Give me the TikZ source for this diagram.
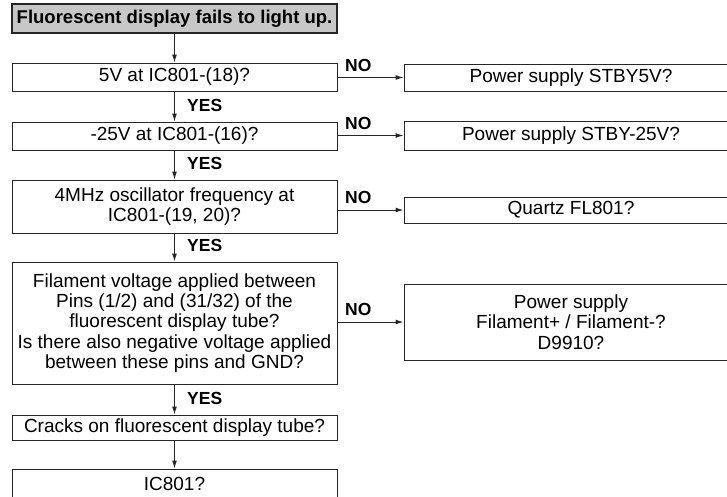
\documentclass[tikz,border=0pt]{standalone}
\usepackage{fontspec}
\setmainfont{Liberation Sans}
\usetikzlibrary{arrows.meta}
\begin{document}
\begin{tikzpicture}[x=1pt,y=-1pt,
  box/.style={draw=black!85, line width=1pt, rectangle, inner sep=0pt, align=center, font=\fontsize{19}{20.4}\selectfont},
  titlebox/.style={draw=black!85, line width=2.2pt, fill=black!22, inner sep=0pt, font=\bfseries\fontsize{18.5}{20}\selectfont},
  lbl/.style={font=\bfseries\fontsize{17.5}{20}\selectfont, inner sep=0pt, anchor=base west},
  arr/.style={-{Latex[length=8pt,width=5pt]}, line width=1pt, draw=black!85}]
\useasboundingbox (0,0) rectangle (727,496);
\node[titlebox, minimum width=325pt, minimum height=29pt] (t) at (174.5,18.5) {Fluorescent display fails to light up.};
\node[box, minimum width=325pt, minimum height=28pt] (b1) at (174.5,77) {5V at IC801-(18)?};
\node[box, minimum width=325pt, minimum height=28pt] (b2) at (174.5,136) {-25V at IC801-(16)?};
\node[box, minimum width=325pt, minimum height=53pt] (b3) at (174.5,206.5) {4MHz oscillator frequency at\\IC801-(19, 20)?};
\node[box, minimum width=325pt, minimum height=122pt] (b4) at (174.5,323) {Filament voltage applied between\\Pins (1/2) and (31/32) of the\\fluorescent display tube?\\Is there also negative voltage applied\\between these pins and GND?};
\node[box, minimum width=325pt, minimum height=25pt] (b5) at (174.5,427.5) {Cracks on fluorescent display tube?};
\node[box, minimum width=325pt, minimum height=30pt] (b6) at (174.5,484) {IC801?};
\node[box, minimum width=334pt, minimum height=27pt] (r1) at (571,77.5) {Power supply STBY5V?};
\node[box, minimum width=334pt, minimum height=29pt] (r2) at (571,135.5) {Power supply STBY-25V?};
\node[box, minimum width=334pt, minimum height=26pt] (r3) at (571,210) {Quartz FL801?};
\node[box, minimum width=334pt, minimum height=76pt] (r4) at (571,322) {Power supply\\Filament+ / Filament-?\\D9910?};
\draw[arr] (t.south) -- (b1.north);
\draw[arr] (b1.south) -- (b2.north);
\draw[arr] (b2.south) -- (b3.north);
\draw[arr] (b3.south) -- (b4.north);
\draw[arr] (b4.south) -- (b5.north);
\draw[arr] (b5.south) -- (b6.north);
\draw[arr] (b1.east |- r1.west) -- (r1.west);
\draw[arr] (b2.east |- r2.west) -- (r2.west);
\draw[arr] (b3.east |- r3.west) -- (r3.west);
\draw[arr] (b4.east |- r4.west) -- (r4.west);
\node[lbl] (n1) at (345,71.5) {NO};
\node[lbl] (n2) at (345,129) {NO};
\node[lbl] (n3) at (345,203.5) {NO};
\node[lbl] (n4) at (345,315.5) {NO};
\node[lbl] (y1) at (187,111) {YES};
\node[lbl] (y2) at (187,169) {YES};
\node[lbl] (y3) at (187,251) {YES};
\node[lbl] (y4) at (187,404) {YES};
\end{tikzpicture}
\end{document}
